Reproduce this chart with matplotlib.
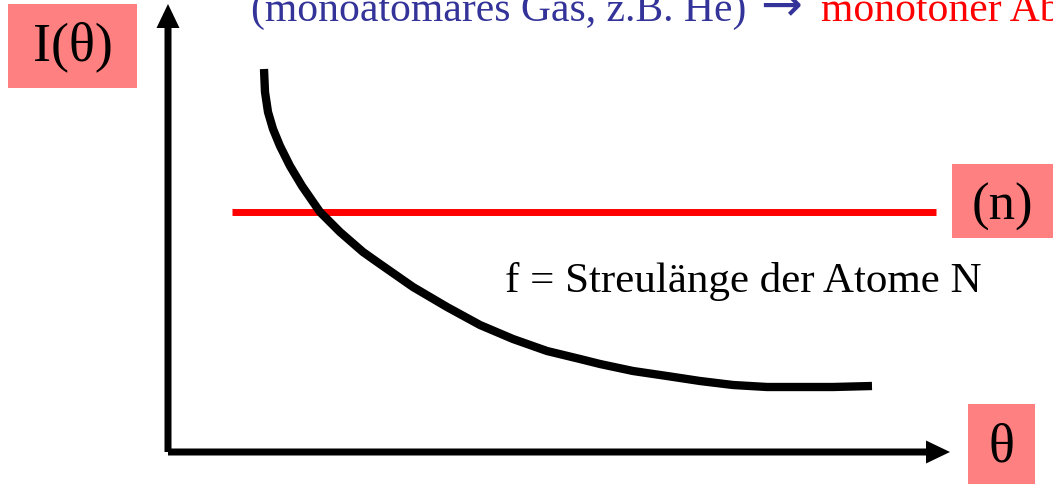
import matplotlib

matplotlib.use("Agg")

import matplotlib.pyplot as plt
from matplotlib.patches import FancyArrow, Rectangle

# schematic scattering intensity I(theta)
theta = [0.96, 0.97, 1.00, 1.05, 1.12, 1.22, 1.34, 1.52, 1.72, 1.95, 2.12, 2.45,
         2.79, 3.12, 3.45, 3.79, 4.12, 4.32, 4.65, 4.99, 5.32, 5.65, 5.99, 6.32,
         6.65, 7.04]
intensity = [3.83, 3.60, 3.40, 3.23, 3.06, 2.86, 2.66, 2.40, 2.20, 2.00, 1.88, 1.65,
             1.45, 1.27, 1.13, 1.01, 0.93, 0.88, 0.81, 0.76, 0.71, 0.67, 0.65, 0.65,
             0.65, 0.66]

# neutron scattering: constant level
neutron_theta = [0.64, 7.68]
neutron_level = [2.40, 2.40]

title_blue = "(monoatomares Gas, z.B. He)"
title_arrow = "\u2192"
title_red = "monotoner Abfall"
note = "f = Streul\u00e4nge der Atome N"
y_label = "I(\u03b8)"
x_label = "\u03b8"
n_label = "(n)"

serif = ["Liberation Serif", "DejaVu Serif"]
box_color = "#ff8080"

fig = plt.figure(figsize=(10.53, 4.85), dpi=100)
ax = fig.add_axes([0, 0, 1, 1])
ax.set_xlim(-1.68, 8.85)
ax.set_ylim(-0.32, 4.53)
ax.axis("off")

# axes arrows
ax.add_patch(FancyArrow(0, 0, 0, 4.48, width=0.07, head_width=0.23, head_length=0.24,
                        length_includes_head=True, color="black", lw=0))
ax.add_patch(FancyArrow(0, 0, 7.82, 0, width=0.07, head_width=0.23, head_length=0.24,
                        length_includes_head=True, color="black", lw=0))

ax.plot(neutron_theta, neutron_level, color="#ff0000", lw=5, solid_capstyle="butt")
ax.plot(theta, intensity, color="black", lw=6, solid_capstyle="butt", solid_joinstyle="round")

# labels in pink boxes
ax.add_patch(Rectangle((-1.60, 3.64), 1.29, 0.84, color=box_color, lw=0))
ax.text(-0.955, 4.06, y_label, family=serif, fontsize=39, ha="center", va="center")
ax.add_patch(Rectangle((7.84, 2.14), 1.05, 0.74, color=box_color, lw=0))
ax.text(8.34, 2.46, n_label, family=serif, fontsize=38, ha="center", va="center")
ax.add_patch(Rectangle((8.00, -0.34), 0.67, 0.82, color=box_color, lw=0))
ax.text(8.335, 0.05, x_label, family=serif, fontsize=39, ha="center", va="center")

ax.text(3.37, 1.61, note, family=serif, fontsize=31, ha="left", va="baseline")

# title line, cut off at the top edge like in the slide
ax.text(0.83, 4.32, title_blue, family=serif, fontsize=30, color="#333399",
        ha="left", va="baseline")
ax.text(5.92, 4.32, title_arrow, family="DejaVu Sans", fontsize=36, color="#333399",
        ha="left", va="baseline")
ax.text(6.53, 4.32, title_red, family=serif, fontsize=30, color="#ff0000",
        ha="left", va="baseline")

fig.savefig("out.png", dpi=100)
